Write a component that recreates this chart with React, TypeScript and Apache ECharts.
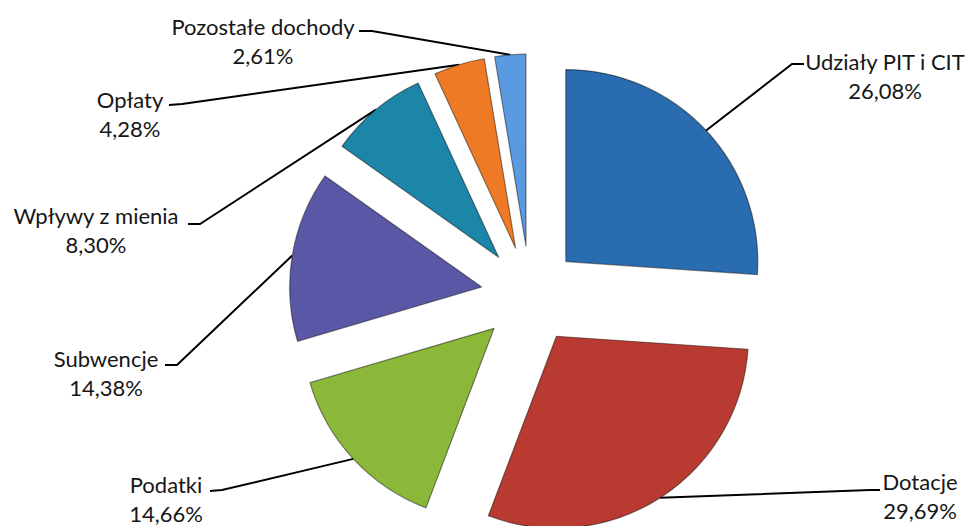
import React, { useEffect, useRef } from "react";
import * as echarts from "echarts";

const categories = [
  "Udziały PIT i CIT",
  "Dotacje",
  "Podatki",
  "Subwencje",
  "Wpływy z mienia",
  "Opłaty",
  "Pozostałe dochody",
];
const shares = [26.08, 29.69, 14.66, 14.38, 8.3, 4.28, 2.61];
const colors = ["#2a6cb0", "#b83a30", "#8cb83a", "#5a58a6", "#1b86a8", "#ee7a25", "#5a9ae0"];

// label layout (block centre, elbow and end of leader line)
const labelCenters: [number, number][] = [
  [885, 76],
  [920, 496],
  [166, 499],
  [106, 373],
  [96, 230],
  [130, 114],
  [263, 41],
];
const lineElbows: [number, number][] = [
  [792, 64],
  [870, 490],
  [222, 490],
  [177, 365],
  [200, 224],
  [182, 104],
  [372, 31],
];
const lineEnds: [number, number][] = [
  [804, 64],
  [880, 490],
  [210, 491],
  [165, 365],
  [188, 224],
  [169, 105],
  [359, 31],
];

const CENTER = [530, 295];
const RADIUS = 192;
const EXPLODE = 49;

export default function App() {
  const ref = useRef<HTMLDivElement>(null);
  useEffect(() => {
    if (!ref.current) return;
    const chart = echarts.init(ref.current, undefined, { renderer: "svg" });
    const pct = (v: number) => `${v.toFixed(2).replace(".", ",")}%`;
    chart.setOption({
      animation: false,
      backgroundColor: "#ffffff",
      series: [
        {
          type: "pie",
          center: CENTER,
          radius: RADIUS,
          startAngle: 90,
          clockwise: true,
          selectedMode: "multiple",
          selectedOffset: EXPLODE,
          emphasis: { disabled: true },
          silent: true,
          z: 2,
          itemStyle: { borderColor: "rgba(0,0,0,0.45)", borderWidth: 1.2 },
          label: { show: false },
          labelLine: { show: false },
          data: categories.map((name, i) => ({
            name,
            value: shares[i],
            selected: true,
            itemStyle: { color: colors[i] },
          })),
        },
        {
          // transparent twin whose rim matches the exploded slices' outer edge; carries the labels
          type: "pie",
          center: CENTER,
          radius: RADIUS + EXPLODE,
          startAngle: 90,
          clockwise: true,
          silent: true,
          z: 1,
          avoidLabelOverlap: false,
          emphasis: { disabled: true },
          itemStyle: { color: "rgba(0,0,0,0)", borderWidth: 0 },
          data: categories.map((name, i) => ({ name, value: shares[i] })),
          label: {
            show: true,
            position: "outside",
            color: "#161616",
            fontFamily: "Lato, 'Noto Sans', sans-serif",
            fontSize: 22,
            lineHeight: 29,
            align: "center",
            formatter: (p: any) => `${p.name}\n${pct(p.value)}`,
          },
          labelLine: {
            show: true,
            lineStyle: { color: "#000", width: 2 },
          },
          labelLayout: (params: any) => {
            const i = params.dataIndex;
            const start = params.labelLinePoints ? params.labelLinePoints[0] : lineElbows[i];
            return {
              x: labelCenters[i][0],
              y: labelCenters[i][1],
              align: "center",
              verticalAlign: "middle",
              labelLinePoints: [start, lineElbows[i], lineEnds[i]],
            };
          },
        },
      ],
    });
    return () => chart.dispose();
  }, []);
  return (
    <div
      ref={ref}
      style={{ position: "fixed", left: 0, top: 0, width: 967, height: 526 }}
    />
  );
}
